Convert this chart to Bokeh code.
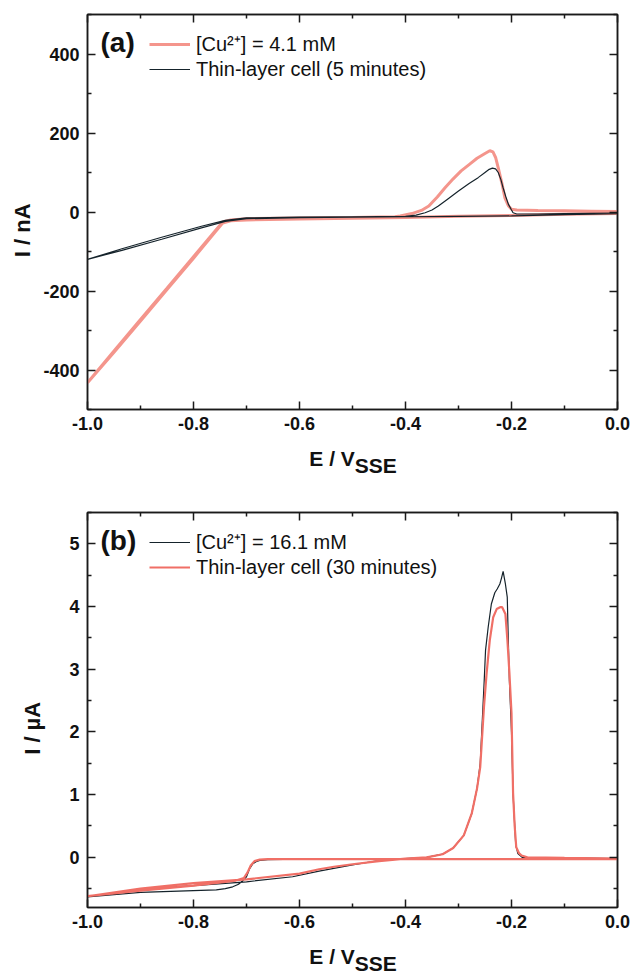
from bokeh.plotting import figure
from bokeh.models import (LinearAxis, FixedTicker, Label, Legend, LegendItem,
                          Range1d, CustomJSTickFormatter)
from bokeh.layouts import column
from bokeh.embed import file_html
from bokeh.resources import INLINE

# ---------------- data ----------------
# Panel (a): currents in nA
e_a_cu = [0.0, -0.1, -0.2, -0.3, -0.4, -0.5, -0.6, -0.7, -0.73, -0.745, -0.76, -0.8, -0.85, -0.9, -0.95, -1.0,
          -0.95, -0.9, -0.85, -0.8, -0.76, -0.745, -0.73, -0.7, -0.6, -0.5, -0.42, -0.41, -0.388, -0.37,
          -0.356, -0.34, -0.325, -0.31, -0.295, -0.28, -0.265, -0.25, -0.241, -0.235, -0.23, -0.225,
          -0.218, -0.2125, -0.206, -0.2, -0.19, -0.15, -0.1, -0.05, 0.0]
i_a_cu = [-4, -6, -9, -11, -14, -16, -18, -20, -22, -28, -52, -117, -196, -276, -355, -432,
          -352, -272, -193, -113, -49, -25, -20, -17, -15, -14, -12, -10, -4, 4,
          15, 38, 62, 84, 104, 120, 136, 148, 155, 152, 138, 112,
          72, 36, 16, 7, 5, 4, 3, 2, 1]

e_a_tl = [0.0, -0.1, -0.2, -0.3, -0.4, -0.5, -0.6, -0.7, -0.74, -0.785, -0.86, -0.935, -1.0,
          -0.935, -0.86, -0.785, -0.74, -0.7, -0.6, -0.5, -0.4, -0.38, -0.363, -0.35, -0.338, -0.32,
          -0.30, -0.28, -0.263, -0.25, -0.242, -0.236, -0.23, -0.225, -0.22, -0.216, -0.211, -0.206,
          -0.2, -0.197, -0.19, -0.15, -0.1, 0.0]
i_a_tl = [-4, -7, -10, -11, -12, -13, -14, -17, -24, -40, -69, -97, -120,
          -93, -64, -36, -21, -15, -13, -12, -11, -8, -2, 5, 15, 33,
          53, 72, 87, 100, 108, 111, 109, 100, 82, 62, 40, 20,
          5, -2, -5, -5, -4, -3]

# Panel (b): currents in uA
e_b_cu = [0.0, -0.2, -0.4, -0.6, -0.66, -0.675, -0.682, -0.688, -0.694, -0.70, -0.708, -0.715, -0.726,
          -0.74, -0.757, -0.8, -0.9, -1.0,
          -0.9, -0.8, -0.7, -0.613, -0.563, -0.5, -0.45, -0.4, -0.36, -0.33, -0.31, -0.29, -0.275,
          -0.265, -0.259, -0.2515, -0.249, -0.244, -0.238, -0.2315, -0.227, -0.222, -0.219, -0.2158,
          -0.2115, -0.208, -0.206, -0.204, -0.2, -0.197, -0.192, -0.188, -0.18, -0.1, 0.0]
i_b_cu = [-0.02, -0.03, -0.03, -0.03, -0.035, -0.05, -0.07, -0.10, -0.18, -0.31, -0.38, -0.43, -0.47,
          -0.50, -0.52, -0.53, -0.56, -0.63,
          -0.51, -0.45, -0.39, -0.31, -0.22, -0.12, -0.05, -0.02, 0.0, 0.05, 0.15, 0.35, 0.70,
          1.10, 1.50, 2.82, 3.30, 3.67, 4.04, 4.22, 4.28, 4.36, 4.45, 4.56,
          4.36, 4.15, 3.46, 2.82, 2.0, 1.0, 0.2, 0.06, 0.0, -0.01, -0.02]

e_b_tl = [0.0, -0.2, -0.4, -0.6, -0.66, -0.675, -0.685, -0.692, -0.698, -0.705, -0.72, -0.8, -0.9, -1.0,
          -0.9, -0.8, -0.7, -0.6, -0.563, -0.535, -0.5, -0.45, -0.4, -0.36, -0.33, -0.31, -0.29, -0.275,
          -0.265, -0.259, -0.252, -0.247, -0.241, -0.2345, -0.228, -0.2215, -0.2176, -0.2115, -0.2077,
          -0.204, -0.2, -0.197, -0.194, -0.191, -0.186, -0.181, -0.17, -0.1, 0.0]
i_b_tl = [-0.03, -0.03, -0.03, -0.03, -0.03, -0.035, -0.06, -0.13, -0.24, -0.33, -0.37, -0.45, -0.53, -0.62,
          -0.50, -0.41, -0.35, -0.26, -0.19, -0.15, -0.11, -0.06, -0.02, 0.0, 0.05, 0.15, 0.35, 0.70,
          1.10, 1.44, 2.39, 2.93, 3.46, 3.83, 3.96, 3.99, 3.99, 3.88, 3.46,
          2.95, 2.3, 1.02, 0.5, 0.16, 0.07, 0.03, 0.0, -0.01, -0.02]

x_ticks = [-1.0, -0.8, -0.6, -0.4, -0.2, 0.0]
x_tick_labels = ["-1.0", "-0.8", "-0.6", "-0.4", "-0.2", "0.0"]
ya_ticks = [-400, -200, 0, 200, 400]
ya_tick_labels = ["-400", "-200", "0", "200", "400"]
yb_ticks = [0, 1, 2, 3, 4, 5]
yb_tick_labels = ["0", "1", "2", "3", "4", "5"]

labels_a = ["[Cu\u00b2\u207a] = 4.1 mM", "Thin-layer cell (5 minutes)"]
labels_b = ["[Cu\u00b2\u207a] = 16.1 mM", "Thin-layer cell (30 minutes)"]

NB = "\u00a0"
x_title = "E / V" + NB * 7 + "\n" + NB * 8 + "SSE"
ya_title = "I / nA" + NB * 6
yb_title = "I / \u00b5A" + NB * 6

FONT = "Liberation Sans"
BLACK = "#15232b"
RED_A = "#f4958c"
RED_B = "#f06f66"


def minors(ticks):
    step = ticks[1] - ticks[0]
    return [t - step / 2 for t in ticks] + [ticks[-1] + step / 2]


def style_axis(ax, ticks, labels, show_labels=True):
    ax.ticker = FixedTicker(ticks=ticks, minor_ticks=minors(ticks))
    ax.major_tick_in = 8
    ax.major_tick_out = 0
    ax.minor_tick_in = 4
    ax.minor_tick_out = 0
    ax.axis_line_width = 1.5
    ax.axis_line_color = "#1a1a1a"
    ax.major_tick_line_width = 1.5
    ax.minor_tick_line_width = 1.5
    ax.major_tick_line_color = "#1a1a1a"
    ax.minor_tick_line_color = "#1a1a1a"
    if show_labels:
        ax.major_label_overrides = {t: l for t, l in zip(ticks, labels)}
        ax.major_label_text_font = FONT
        ax.major_label_text_font_style = "bold"
        ax.major_label_text_font_size = "18px"
        ax.major_label_text_color = "#111111"
        ax.axis_label_text_font = FONT
        ax.axis_label_text_font_style = "bold"
        ax.axis_label_text_color = "#111111"
    else:
        ax.formatter = CustomJSTickFormatter(code="return ''")
        ax.major_label_standoff = 0


def make_panel(y_range, y_ticks, y_labels, top_border, bottom_border, tag, ytitle, ytitle_standoff):
    p = figure(frame_width=530, frame_height=395,
               min_border_left=87, min_border_right=15,
               min_border_top=top_border, min_border_bottom=bottom_border,
               x_range=Range1d(-1.0, 0.0), y_range=Range1d(*y_range),
               output_backend="svg", toolbar_location=None)
    p.xgrid.visible = False
    p.ygrid.visible = False
    p.outline_line_color = "#1a1a1a"
    p.outline_line_width = 1.5
    p.background_fill_color = "white"
    p.border_fill_color = "white"

    xa = p.xaxis[0]
    style_axis(xa, x_ticks, x_tick_labels)
    xa.major_label_standoff = 7
    xa.axis_label = x_title
    xa.axis_label_text_font_size = "21px"
    xa.axis_label_text_line_height = 0.33
    xa.axis_label_standoff = 14

    ya = p.yaxis[0]
    style_axis(ya, y_ticks, y_labels)
    ya.major_label_standoff = 8
    ya.axis_label = ytitle
    ya.axis_label_text_font_size = "22px"
    ya.axis_label_standoff = ytitle_standoff

    top = LinearAxis()
    style_axis(top, x_ticks, x_tick_labels, show_labels=False)
    p.add_layout(top, "above")
    right = LinearAxis()
    style_axis(right, y_ticks, y_labels, show_labels=False)
    p.add_layout(right, "right")

    p.add_layout(Label(x=13, y=367, x_units="screen", y_units="screen", text=tag,
                       text_font=FONT, text_font_style="bold", text_font_size="28px",
                       text_baseline="middle", text_align="left", text_color="#111111"))
    return p


def add_legend(p, items):
    legend = Legend(items=items, location=(62, 328), orientation="vertical",
                    border_line_color=None, background_fill_alpha=0,
                    padding=0, margin=0, spacing=0,
                    glyph_width=41, glyph_height=24, label_height=24, label_standoff=6,
                    label_text_font=FONT, label_text_font_size="20px",
                    label_text_color="#111111")
    p.add_layout(legend)


# Panel (a)
pa = make_panel((-500, 500), ya_ticks, ya_tick_labels, 14, 81, "(a)", ya_title, 5)
r_a_cu = pa.line(e_a_cu, i_a_cu, line_color=RED_A, line_width=3)
r_a_tl = pa.line(e_a_tl, i_a_tl, line_color=BLACK, line_width=1.2)
add_legend(pa, [LegendItem(label=labels_a[0], renderers=[r_a_cu]),
                LegendItem(label=labels_a[1], renderers=[r_a_tl])])

# Panel (b)
pb = make_panel((-0.8, 5.5), yb_ticks, yb_tick_labels, 22, 68, "(b)", yb_title, 21)
r_b_cu = pb.line(e_b_cu, i_b_cu, line_color=BLACK, line_width=1.2)
r_b_tl = pb.line(e_b_tl, i_b_tl, line_color=RED_B, line_width=2.2)
add_legend(pb, [LegendItem(label=labels_b[0], renderers=[r_b_cu]),
                LegendItem(label=labels_b[1], renderers=[r_b_tl])])

layout = column(pa, pb, spacing=0)
open("out.html", "w").write(file_html(layout, INLINE))
